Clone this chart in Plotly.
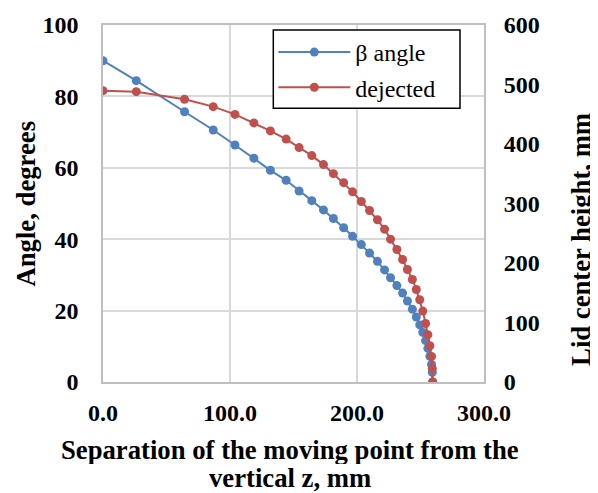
import plotly.graph_objects as go

# Separation of the moving point from the vertical z, mm
separation = [0, 26.2, 64.2, 86.8, 103.9, 118.8, 131.8, 144.2, 154.4, 164.4,
              173.6, 181.4, 189.5, 196.5, 203.4, 209.9, 216.1, 221.7, 226.4, 231.4,
              235.9, 239.7, 243.6, 246.7, 249.4, 251.8, 254.0, 255.8, 257.4, 258.7,
              259.3, 259.6]

# beta angle, degrees (left axis)
beta_angle = [90.0, 84.4, 75.7, 70.6, 66.4, 62.7, 59.3, 56.5, 53.5, 50.8,
              48.2, 45.8, 43.2, 40.8, 38.5, 36.1, 33.8, 31.4, 29.2, 27.0,
              24.9, 22.7, 20.4, 18.2, 16.0, 13.9, 11.6, 9.4, 7.2, 4.9,
              2.7, 0.0]

# dejected: lid center height, mm (right axis)
dejected = [489.7, 488.0, 475.2, 462.8, 449.7, 435.4, 422.0, 408.2, 394.0, 380.5,
            365.4, 350.1, 335.0, 319.6, 303.3, 288.2, 272.6, 256.9, 240.1, 222.7,
            205.9, 189.1, 172.3, 155.5, 138.2, 119.2, 98.4, 79.4, 61.0, 43.0,
            22.8, 0.0]

x_ticks = [0, 100, 200, 300]
y_left_ticks = [0, 20, 40, 60, 80, 100]
y_right_ticks = [0, 100, 200, 300, 400, 500, 600]

x_title_lines = ["Separation of the moving point from the", "vertical z, mm"]
y_left_title = "Angle, degrees"
y_right_title = "Lid center height, mm"

BLUE = "#4f81bd"
RED = "#c0504d"
FONT = "Liberation Serif"

fig = go.Figure()
fig.add_trace(go.Scatter(
    x=separation, y=beta_angle, name="β angle", mode="lines+markers",
    legendgroup="a",
    line=dict(color=BLUE, width=2), marker=dict(color=BLUE, size=9),
))
fig.add_trace(go.Scatter(
    x=separation, y=dejected, name="dejected", mode="lines+markers", yaxis="y2",
    legendgroup="b",
    line=dict(color=RED, width=2), marker=dict(color=RED, size=9),
))

tickfont = dict(family=FONT, size=24, color="black", weight="bold")
titlefont = dict(family=FONT, size=26.7, color="black", weight="bold")

fig.update_layout(
    width=598, height=493,
    margin=dict(l=95, r=122, t=17, b=119, autoexpand=False),
    paper_bgcolor="white", plot_bgcolor="white",
    font=dict(family=FONT, color="black"),
    xaxis=dict(
        range=[0, 300], tickvals=x_ticks, tickformat=".1f", automargin=False,
        tickfont=tickfont, showgrid=True, gridcolor="#d9d9d9", gridwidth=1.5,
        showline=True, linecolor="#bfbfbf", linewidth=1.5, mirror=True,
        ticks="outside", ticklen=8, tickcolor="rgba(0,0,0,0)",
        zeroline=False,
    ),
    yaxis=dict(
        range=[0, 100], tickvals=y_left_ticks, automargin=False,
        tickfont=tickfont, showgrid=True, gridcolor="#d9d9d9", gridwidth=1.5,
        showline=True, linecolor="#bfbfbf", linewidth=1.5, mirror=True,
        ticks="outside", ticklen=18, tickcolor="rgba(0,0,0,0)",
        zeroline=False,
    ),
    yaxis2=dict(
        range=[0, 600], tickvals=y_right_ticks, overlaying="y", side="right",
        automargin=False,
        tickfont=tickfont, showgrid=False,
        ticks="outside", ticklen=14, tickcolor="rgba(0,0,0,0)",
        zeroline=False,
    ),
    legend=dict(
        x=0.447, y=0.986, xanchor="left", yanchor="top",
        bgcolor="rgba(0,0,0,0)", borderwidth=0,
        font=dict(family=FONT, size=24, color="black"),
        itemwidth=72, tracegroupgap=1, traceorder="grouped",
    ),
    showlegend=True,
    shapes=[
        dict(type="rect", xref="paper", yref="paper", layer="above",
             x0=0.447, x1=0.937, y0=0.7667, y1=0.986,
             fillcolor="white", line=dict(color="black", width=1.5)),
    ],
    annotations=[
        dict(text=x_title_lines[0], xref="paper", yref="paper", x=0.492, y=-0.1916,
             xanchor="center", yanchor="middle", showarrow=False, font=titlefont,
             height=28),
        dict(text=x_title_lines[1], xref="paper", yref="paper", x=0.492, y=-0.2700,
             xanchor="center", yanchor="middle", showarrow=False, font=titlefont,
             height=28),
        dict(text=y_left_title, xref="paper", yref="paper", x=-0.2021, y=0.5,
             xanchor="center", yanchor="middle", showarrow=False, textangle=-90,
             font=titlefont),
        dict(text=y_right_title, xref="paper", yref="paper", x=1.2546, y=0.398,
             xanchor="center", yanchor="middle", showarrow=False, textangle=-90,
             font=titlefont),
    ],
)

fig.write_html("out.html")
